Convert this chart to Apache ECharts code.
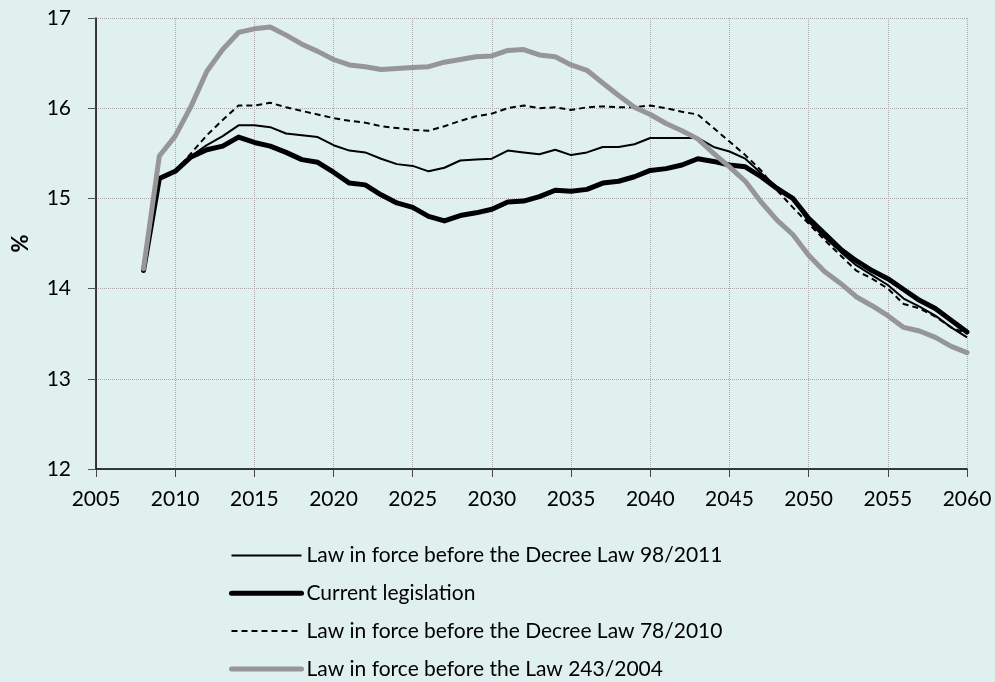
<!DOCTYPE html>
<html>
<head>
<meta charset="utf-8">
<script src="https://cdn.jsdelivr.net/npm/echarts@6/dist/echarts.min.js"></script>
<style>
  html, body { margin: 0; padding: 0; background: #DFF0EF; }
  #chart { width: 995px; height: 682px; }
</style>
</head>
<body>
<div id="chart"></div>
<script>
// years 2008..2060
const years = [];
for (let y = 2008; y <= 2060; y++) years.push(y);

const seriesNames = [
  'Law in force before the Decree Law 98/2011',
  'Current legislation',
  'Law in force before the Decree Law 78/2010',
  'Law in force before the Law 243/2004',
];

// Law in force before the Decree Law 98/2011
const lawBefore98 = [
  14.20, 15.22, 15.30, 15.47, 15.59, 15.69, 15.81, 15.81, 15.79, 15.72,
  15.70, 15.68, 15.59, 15.53, 15.51, 15.44, 15.38, 15.36, 15.30, 15.34,
  15.42, 15.43, 15.44, 15.53, 15.51, 15.49, 15.54, 15.48, 15.51, 15.57,
  15.57, 15.60, 15.67, 15.67, 15.67, 15.67, 15.57, 15.52, 15.44, 15.28,
  15.13, 15.00, 14.74, 14.57, 14.41, 14.26, 14.15, 14.04, 13.89, 13.80,
  13.70, 13.57, 13.46,
];

// Current legislation
const currentLeg = [
  14.20, 15.22, 15.30, 15.46, 15.54, 15.58, 15.68, 15.62, 15.58, 15.51,
  15.43, 15.40, 15.29, 15.17, 15.15, 15.04, 14.95, 14.90, 14.80, 14.75,
  14.81, 14.84, 14.88, 14.96, 14.97, 15.02, 15.09, 15.08, 15.10, 15.17,
  15.19, 15.24, 15.31, 15.33, 15.37, 15.44, 15.41, 15.37, 15.35, 15.24,
  15.11, 15.00, 14.78, 14.61, 14.44, 14.31, 14.20, 14.11, 13.99, 13.87,
  13.78, 13.65, 13.52,
];

// Law in force before the Decree Law 78/2010
const lawBefore78 = [
  14.20, 15.22, 15.30, 15.50, 15.70, 15.87, 16.03, 16.03, 16.06, 16.01,
  15.97, 15.93, 15.89, 15.86, 15.84, 15.80, 15.78, 15.76, 15.75, 15.80,
  15.86, 15.91, 15.94, 16.00, 16.03, 16.00, 16.01, 15.98, 16.01, 16.02,
  16.01, 16.01, 16.03, 16.00, 15.96, 15.93, 15.78, 15.63, 15.48, 15.31,
  15.09, 14.90, 14.72, 14.54, 14.37, 14.20, 14.11, 14.00, 13.83, 13.78,
  13.69, 13.57, 13.50,
];

// Law in force before the Law 243/2004
const lawBefore243 = [
  14.22, 15.47, 15.69, 16.02, 16.41, 16.65, 16.84, 16.88, 16.90, 16.81,
  16.71, 16.63, 16.54, 16.48, 16.46, 16.43, 16.44, 16.45, 16.46, 16.51,
  16.54, 16.57, 16.58, 16.64, 16.65, 16.59, 16.57, 16.48, 16.42, 16.28,
  16.14, 16.01, 15.93, 15.83, 15.75, 15.66, 15.50, 15.35, 15.19, 14.96,
  14.76, 14.60, 14.37, 14.19, 14.06, 13.91, 13.81, 13.70, 13.57, 13.53,
  13.46, 13.36, 13.29,
];

const pair = arr => years.map((y, i) => [y, arr[i]]);

const chart = echarts.init(document.getElementById('chart'));
const fontFamily = 'Lato, "Open Sans", sans-serif';

// line styles, shared by series and legend
const styles = [
  { color: '#000', width: 2 },
  { color: '#000', width: 5, cap: 'round', join: 'round' },
  { color: '#000', width: 2, type: [6, 4] },
  { color: '#969696', width: 5, cap: 'round', join: 'round' },
];

const option = {
  backgroundColor: '#DFF0EF',
  animation: false,
  textStyle: { fontFamily: fontFamily },
  grid: {
    left: 96, right: 28, top: 18, bottom: 213,
    containLabel: false, outerBoundsMode: 'none',
  },
  xAxis: {
    type: 'value',
    min: 2005,
    max: 2060,
    interval: 5,
    axisLine: { show: true, lineStyle: { color: '#000', width: 1.5 } },
    axisTick: { show: true, length: 8, lineStyle: { color: '#444' } },
    axisLabel: {
      color: '#000', fontSize: 21, margin: 20, fontFamily: fontFamily,
      formatter: v => String(v),
    },
    splitLine: { show: true, lineStyle: { color: '#aaa', type: 'dotted', width: 1 } },
  },
  yAxis: {
    type: 'value',
    min: 12,
    max: 17,
    interval: 1,
    name: '%',
    nameLocation: 'middle',
    nameGap: 64,
    nameRotate: 90,
    nameTextStyle: { color: '#000', fontSize: 22, fontWeight: 'bold', fontFamily: fontFamily },
    axisLine: { show: true, lineStyle: { color: '#000', width: 1.5 } },
    axisTick: { show: true, inside: false, length: 8, lineStyle: { color: '#555' } },
    axisLabel: { color: '#000', fontSize: 21, margin: 25, fontFamily: fontFamily },
    splitLine: { show: true, lineStyle: { color: '#aaa', type: 'dotted', width: 1 } },
  },
  legend: {
    orient: 'vertical',
    left: 229,
    top: 545,
    height: 300,
    padding: 0,
    itemWidth: 70,
    itemHeight: 20,
    itemGap: 16.8,
    itemStyle: { opacity: 0 },
    textStyle: { color: '#000', fontSize: 21, lineHeight: 20, fontFamily: fontFamily },
    data: seriesNames.map((name, i) => ({ name: name, lineStyle: styles[i] })),
  },
  series: seriesNames.map((name, i) => ({
    name: name,
    type: 'line',
    symbol: 'none',
    data: pair([lawBefore98, currentLeg, lawBefore78, lawBefore243][i]),
    lineStyle: styles[i],
    itemStyle: { color: styles[i].color },
  })),
};

chart.setOption(option);
</script>
</body>
</html>
